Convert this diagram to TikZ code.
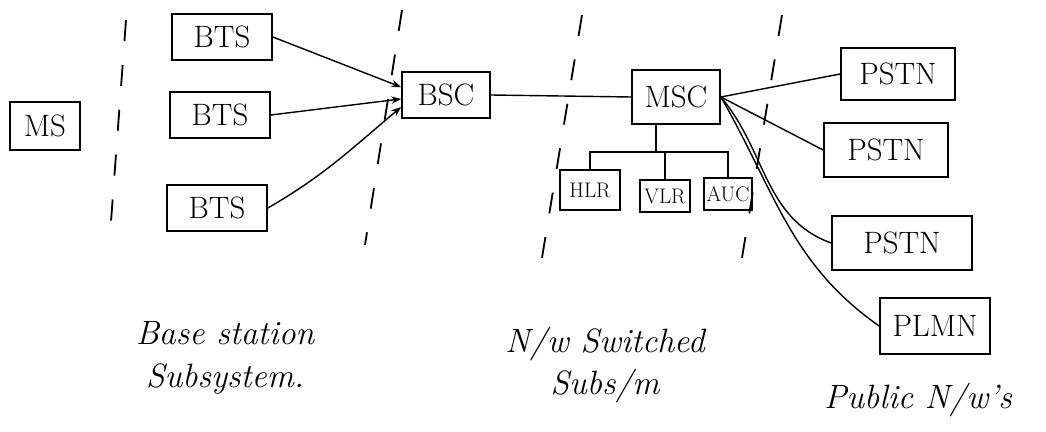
\documentclass[tikz,border=0pt]{standalone}
\usepackage{tikz}
\usetikzlibrary{arrows.meta,positioning}

\begin{document}
\begin{tikzpicture}[x=0.025cm, y=-0.025cm,
  box/.style={draw, line width=1.2pt, minimum width=#1, minimum height=1.15cm,
              inner sep=2pt, font=\fontsize{22}{26}\selectfont},
  box/.default=2.5cm,
  dbox/.style={draw, line width=1pt, minimum width=#1, minimum height=0.8cm,
               inner sep=1pt, font=\fontsize{15}{17}\selectfont},
  arr/.style={-{Stealth[length=7pt]}, line width=1pt, #1},
  arr/.default=black,
  link/.style={line width=1pt},
  sep/.style={line width=1.3pt, dash pattern=on 15pt off 17pt},
  lbl/.style={font=\fontsize{24}{30}\selectfont\itshape, align=center},
]
\useasboundingbox (0,0) rectangle (1046,432);
% Nodes
\node[box=1.75cm, minimum height=1.2cm] (ms)    at (45,126)  {MS};
\node[box]                              (bts1)  at (222,37)  {BTS};
\node[box]                              (bts2)  at (220,115) {BTS};
\node[box]                              (bts3)  at (217,208) {BTS};
\node[box=2.2cm]                        (bsc)   at (446,95)  {BSC};
\node[box=2.2cm, minimum height=1.35cm] (msc)   at (676,97)  {MSC};
\node[dbox=1.5cm, minimum height=1cm]   (hlr)   at (590,190) {HLR};
\node[dbox=1.25cm]                      (vlr)   at (665,196) {VLR};
\node[dbox=1.2cm]                       (auc)   at (728,194) {AUC};
\node[box=2.85cm, minimum height=1.3cm] (pstn1) at (898,74)  {PSTN};
\node[box=3.1cm, minimum height=1.35cm] (pstn2) at (886,150) {PSTN};
\node[box=3.5cm, minimum height=1.35cm] (pstn3) at (902,243) {PSTN};
\node[box=2.75cm, minimum height=1.4cm] (plmn)  at (935,326) {PLMN};
% Labels
\node[lbl] (bss) at (225,358) {Base station\\Subsystem.};
\node[lbl] (nss) at (605,365) {N/w Switched\\Subs/m};
\node[lbl] (pub) at (918,400) {Public N/w's};
% Separators
\coordinate (s1top) at (126,20);  \coordinate (s1bot) at (110,235);
\coordinate (s2top) at (402,10);  \coordinate (s2bot) at (365,245);
\coordinate (s3top) at (582,15);  \coordinate (s3bot) at (540,270);
\coordinate (s4top) at (782,15);  \coordinate (s4bot) at (740,270);
\draw[sep] (s1top) -- (s1bot);
\draw[sep] (s2top) -- (s2bot);
\draw[sep] (s3top) -- (s3bot);
\draw[sep] (s4top) -- (s4bot);
% Arrows
\draw[arr] (bts1.east) -- (bsc.170);
\draw[arr] (bts2.east) -- (bsc.185);
\draw[arr] (bts3.east) to[out=30, in=-140] (bsc.195);
\draw[link] (bsc.east) -- (msc.west);
\draw[link] (msc.east) -- (pstn1.west);
\draw[link] (msc.east) -- (pstn2.west);
\draw[link] (msc.east) to[out=-50, in=160] (pstn3.west);
\draw[link] (msc.east) to[out=-60, in=145] (plmn.west);
% Databases
\draw[link] ([xshift=-0.5cm]msc.south) -- ++(0,27) coordinate (bus);
\draw[link] (hlr.north) |- (bus) -| (auc.north);
\draw[link] (vlr.north) -- (vlr.north |- bus);
\end{tikzpicture}
\end{document}
